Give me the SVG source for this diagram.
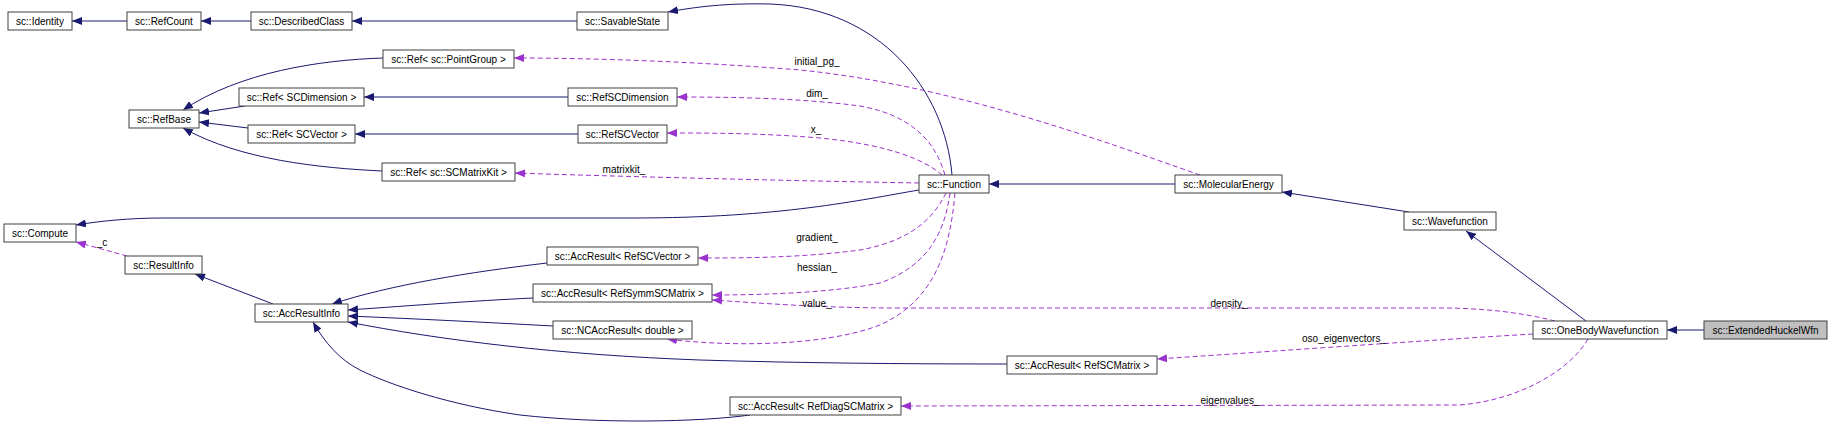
<svg xmlns="http://www.w3.org/2000/svg" width="1830" height="426" viewBox="0 0 1830 426">
<style>
.n rect{fill:#fff;stroke:#404040;stroke-width:1}
.n text,.lbl{font-family:"Liberation Sans",Arial,sans-serif;font-size:10px;fill:#000}
.n text{text-anchor:middle}
.lbl{text-anchor:middle}
.inh{fill:none;stroke:#191970;stroke-width:1;marker-end:url(#ai)}
.use{fill:none;stroke:#9a32cd;stroke-width:1;stroke-dasharray:5,3;marker-end:url(#au)}
</style>
<defs>
<marker id="ai" viewBox="0 0 10 8" refX="10" refY="4" markerWidth="10" markerHeight="8" markerUnits="userSpaceOnUse" orient="auto"><path d="M0,0L10,4L0,8z" fill="#191970"/></marker>
<marker id="au" viewBox="0 0 10 8" refX="10" refY="4" markerWidth="10" markerHeight="8" markerUnits="userSpaceOnUse" orient="auto"><path d="M0,0L10,4L0,8z" fill="#9a32cd"/></marker>
</defs>
<rect width="1830" height="426" fill="#fff"/>
<g id="edges">
<path class="inh" d="M127,21H72"/>
<path class="inh" d="M251,21H201"/>
<path class="inh" d="M577,21H352"/>
<path class="inh" d="M952,175C945,90 880,8 770,4C725,3 695,7 668,12"/>
<path class="inh" d="M383,58C320,60 240,72 183,110"/>
<path class="inh" d="M245,106L199,113"/>
<path class="inh" d="M248,128L199,122"/>
<path class="inh" d="M382,171C320,168 240,160 183,128"/>
<path class="inh" d="M568,97H364"/>
<path class="inh" d="M578,134H355"/>
<path class="inh" d="M919,190C860,200 780,218 633,218L163,218C130,218 100,221 76,225"/>
<path class="use" d="M127,256L76,242"/>
<path class="inh" d="M273,304L195,274"/>
<path class="inh" d="M547,263C470,272 390,285 332,304"/>
<path class="inh" d="M533,298C470,301 420,305 348,310"/>
<path class="inh" d="M553,326C480,322 420,319 348,316"/>
<path class="inh" d="M1007,364C900,364 800,363 700,360C560,355 440,340 348,322"/>
<path class="inh" d="M750,415C700,422 600,424 520,415C450,405 390,385 360,370C340,360 325,343 313,322"/>
<path class="inh" d="M1175,184H989"/>
<path class="inh" d="M1409,212L1282,192"/>
<path class="inh" d="M1586,321L1466,231"/>
<path class="inh" d="M1704,330H1667"/>
<path class="use" d="M1200,175C1100,140 950,85 800,70C700,62 600,58 514,58"/>
<path class="use" d="M945,175C935,140 910,115 860,106C800,98 730,97 677,97"/>
<path class="use" d="M942,175C925,160 890,145 820,138C760,133 710,133 667,133"/>
<path class="use" d="M919,183C800,181 600,176 515,173"/>
<path class="use" d="M946,193C935,215 915,240 860,250C800,258 740,258 698,258"/>
<path class="use" d="M950,193C945,230 930,265 880,283C830,293 760,295 712,295"/>
<path class="use" d="M1555,321C1520,312 1480,308 1440,308L900,308C820,308 760,303 712,300"/>
<path class="use" d="M955,193C950,250 935,300 880,325C820,348 720,346 667,339"/>
<path class="use" d="M1533,334C1400,342 1250,353 1157,359"/>
<path class="use" d="M1588,339C1570,370 1520,400 1460,405L901,406"/>
<text class="lbl" x="102" y="246">_c</text>
<text class="lbl" x="817" y="65">initial_pg_</text>
<text class="lbl" x="817" y="97">dim_</text>
<text class="lbl" x="816" y="133">x_</text>
<text class="lbl" x="624" y="173">matrixkit_</text>
<text class="lbl" x="817" y="241">gradient_</text>
<text class="lbl" x="817" y="271">hessian_</text>
<text class="lbl" x="817" y="307">value_</text>
<text class="lbl" x="1229" y="307">density_</text>
<text class="lbl" x="1344" y="342">oso_eigenvectors_</text>
<text class="lbl" x="1230" y="404">eigenvalues_</text>
</g>
<g id="n_Identity" class="n"><rect x="8" y="12" width="64" height="18"/><text x="40" y="25">sc::Identity</text></g>
<g id="n_RefCount" class="n"><rect x="127" y="12" width="74" height="18"/><text x="164" y="25">sc::RefCount</text></g>
<g id="n_DescribedClass" class="n"><rect x="251" y="12" width="101" height="18"/><text x="301.5" y="25">sc::DescribedClass</text></g>
<g id="n_SavableState" class="n"><rect x="577" y="12" width="91" height="18"/><text x="622.5" y="25">sc::SavableState</text></g>
<g id="n_RefPointGroup" class="n"><rect x="383" y="50" width="131" height="18"/><text x="448.5" y="63">sc::Ref&lt; sc::PointGroup &gt;</text></g>
<g id="n_RefBase" class="n"><rect x="129" y="110" width="70" height="18"/><text x="164" y="123">sc::RefBase</text></g>
<g id="n_RefSCDimensionT" class="n"><rect x="239" y="88" width="125" height="18"/><text x="301.5" y="101">sc::Ref&lt; SCDimension &gt;</text></g>
<g id="n_RefSCVectorT" class="n"><rect x="248" y="125" width="107" height="18"/><text x="301.5" y="138">sc::Ref&lt; SCVector &gt;</text></g>
<g id="n_RefSCMatrixKit" class="n"><rect x="382" y="163" width="133" height="18"/><text x="448.5" y="176">sc::Ref&lt; sc::SCMatrixKit &gt;</text></g>
<g id="n_RefSCDimension" class="n"><rect x="568" y="88" width="109" height="18"/><text x="622.5" y="101">sc::RefSCDimension</text></g>
<g id="n_RefSCVector" class="n"><rect x="578" y="125" width="89" height="18"/><text x="622.5" y="138">sc::RefSCVector</text></g>
<g id="n_Compute" class="n"><rect x="4" y="224" width="72" height="18"/><text x="40" y="237">sc::Compute</text></g>
<g id="n_ResultInfo" class="n"><rect x="125" y="256" width="77" height="18"/><text x="163.5" y="269">sc::ResultInfo</text></g>
<g id="n_AccResultInfo" class="n"><rect x="255" y="304" width="93" height="18"/><text x="301.5" y="317">sc::AccResultInfo</text></g>
<g id="n_AccResultRefSCVector" class="n"><rect x="547" y="247" width="151" height="18"/><text x="622.5" y="260">sc::AccResult&lt; RefSCVector &gt;</text></g>
<g id="n_AccResultRefSymmSCMatrix" class="n"><rect x="533" y="284" width="179" height="18"/><text x="622.5" y="297">sc::AccResult&lt; RefSymmSCMatrix &gt;</text></g>
<g id="n_NCAccResultDouble" class="n"><rect x="553" y="321" width="139" height="18"/><text x="622.5" y="334">sc::NCAccResult&lt; double &gt;</text></g>
<g id="n_AccResultRefSCMatrix" class="n"><rect x="1007" y="356" width="150" height="18"/><text x="1082" y="369">sc::AccResult&lt; RefSCMatrix &gt;</text></g>
<g id="n_AccResultRefDiagSCMatrix" class="n"><rect x="730" y="397" width="171" height="18"/><text x="815.5" y="410">sc::AccResult&lt; RefDiagSCMatrix &gt;</text></g>
<g id="n_Function" class="n"><rect x="919" y="175" width="70" height="18"/><text x="954" y="188">sc::Function</text></g>
<g id="n_MolecularEnergy" class="n"><rect x="1175" y="175" width="107" height="18"/><text x="1228.5" y="188">sc::MolecularEnergy</text></g>
<g id="n_Wavefunction" class="n"><rect x="1404" y="212" width="92" height="18"/><text x="1450" y="225">sc::Wavefunction</text></g>
<g id="n_OneBodyWavefunction" class="n"><rect x="1533" y="321" width="134" height="18"/><text x="1600" y="334">sc::OneBodyWavefunction</text></g>
<g id="n_ExtendedHuckelWfn" class="n"><rect x="1704" y="321" width="123" height="18" style="fill:#bfbfbf"/><text x="1765.5" y="334">sc::ExtendedHuckelWfn</text></g>
</svg>
